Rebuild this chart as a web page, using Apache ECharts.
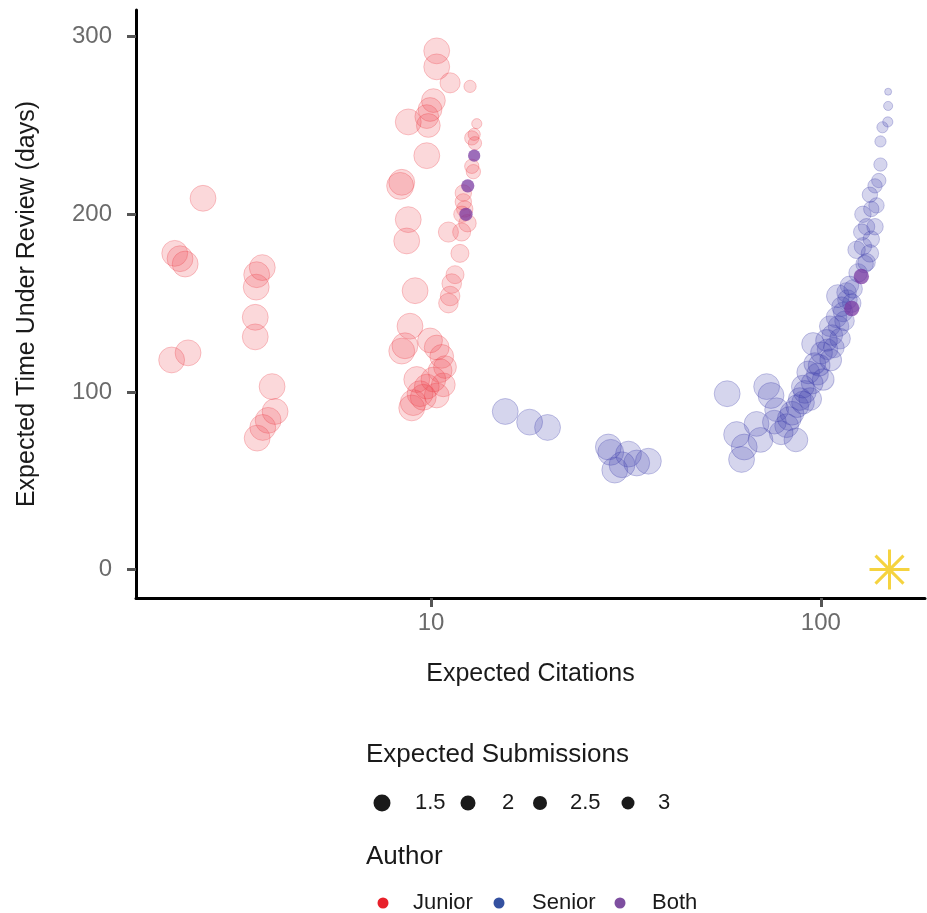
<!DOCTYPE html>
<html>
<head>
<meta charset="utf-8">
<script src="https://cdn.jsdelivr.net/npm/echarts@6/dist/echarts.min.js"></script>
<style>
  html, body { margin: 0; padding: 0; background: #fff; }
  #main { width: 927px; height: 913px; }
</style>
</head>
<body>
<div id="main"></div>
<script>
// [expected citations, expected days under review, expected submissions]
var junior = [
  [2.60, 209, 1.3], [2.20, 178, 1.3], [2.27, 175, 1.3], [2.34, 172, 1.3],
  [2.38, 122, 1.3], [2.16, 118, 1.3],
  [3.69, 170, 1.3], [3.57, 166, 1.3], [3.56, 159, 1.3], [3.54, 142, 1.3],
  [3.54, 131, 1.3], [3.91, 103, 1.3], [3.98, 89, 1.3], [3.82, 84, 1.3],
  [3.70, 80, 1.3], [3.58, 74, 1.3],
  [10.34, 292, 1.3], [10.34, 283, 1.3], [11.19, 274, 1.85], [12.59, 272, 2.6],
  [10.14, 264, 1.5], [9.94, 259, 1.5], [9.75, 255, 1.5], [8.74, 252, 1.3],
  [9.84, 250, 1.5], [9.75, 233, 1.3], [13.1, 251, 2.8], [12.9, 245, 2.6],
  [12.72, 243, 2.4], [12.96, 240, 2.5], [12.72, 227, 2.4], [12.84, 224, 2.4],
  [12.1, 212, 2.2], [12.1, 207, 2.2], [12.2, 203, 2.2], [12.0, 200, 2.2],
  [12.4, 195, 2.1], [8.33, 216, 1.2], [8.41, 218, 1.3], [8.74, 197, 1.3],
  [8.66, 185, 1.3], [11.08, 190, 1.85], [11.98, 190, 2.05], [11.86, 178, 2.05],
  [11.52, 166, 2.05], [11.3, 161, 1.9], [11.19, 154, 1.9], [11.08, 150, 1.9],
  [9.1, 157, 1.3], [8.83, 137, 1.3], [8.57, 126, 1.3], [8.41, 123, 1.3],
  [9.94, 129, 1.4], [10.34, 125, 1.4], [10.65, 120, 1.5], [10.86, 114, 1.6],
  [10.55, 112, 1.5], [9.19, 107, 1.3], [10.14, 107, 1.4], [9.75, 103, 1.4],
  [10.75, 104, 1.5], [9.37, 99, 1.3], [9.0, 94, 1.3], [9.55, 97, 1.3],
  [8.92, 91, 1.3], [10.34, 98, 1.4]
];
var senior = [
  [15.5, 89, 1.3], [17.9, 83, 1.3], [19.9, 80, 1.3],
  [28.5, 69, 1.3], [28.9, 66, 1.3], [29.6, 56, 1.3], [32.1, 65, 1.3],
  [33.7, 60, 1.3], [36.1, 61, 1.3], [30.9, 59, 1.3],
  [57.5, 99, 1.3], [72.6, 103, 1.3], [74.5, 98, 1.3], [60.8, 76, 1.3],
  [62.6, 62, 1.3], [63.6, 69, 1.3], [68.4, 82, 1.4], [70, 73, 1.4],
  [77, 90, 1.5], [81.7, 81, 1.5], [84.3, 88, 1.5], [88.3, 96, 1.6],
  [89.9, 103, 1.6], [92.8, 111, 1.6], [96.5, 116, 1.7], [95.5, 127, 1.6],
  [100.4, 122, 1.7], [103.4, 129, 1.7], [105.4, 137, 1.8], [109.7, 142, 1.8],
  [113, 148, 1.9], [110.6, 154, 1.6], [116.4, 156, 1.9], [118.4, 160, 2.0],
  [124.6, 167, 2.0], [131, 173, 2.1], [86.3, 73, 1.5], [79.1, 77, 1.5],
  [93.9, 96, 1.6], [101.4, 107, 1.7], [98, 110, 1.7], [91, 100, 1.6],
  [106, 118, 1.7], [112, 130, 1.8], [108, 125, 1.8], [115, 140, 1.9],
  [120, 150, 2.0], [83, 85, 1.5], [87, 92, 1.6], [95, 105, 1.7],
  [99, 115, 1.7], [104, 124, 1.8], [107, 132, 1.8], [111, 137, 1.8],
  [114, 145, 1.9], [117, 152, 1.9], [121, 158, 2.0], [76, 83, 1.5],
  [90, 94, 1.6],
  [148.8, 269, 3.1], [148.8, 261, 2.9], [148.5, 252, 2.8], [143.9, 249, 2.7],
  [142.2, 241, 2.7], [142.2, 228, 2.5], [140.8, 219, 2.4], [137.7, 216, 2.4],
  [133.6, 211, 2.3], [138.9, 205, 2.3], [134.7, 203, 2.3], [128.2, 200, 2.2],
  [137.7, 193, 2.2], [131, 193, 2.2], [127.3, 190, 2.2], [134.7, 186, 2.2],
  [128.2, 182, 2.1], [123.5, 180, 2.1], [133.6, 178, 2.1], [129.5, 172, 2.1]
];
var both = [
  [12.9, 233, 2.6], [12.42, 216, 2.5], [12.29, 200, 2.5],
  [127, 165, 2.3], [120, 147, 2.3]
];
var optimum = [[150, 0]];

var yTicks = [0, 100, 200, 300];
var xTicks = [10, 100];
var sizeLegend = [1.5, 2, 2.5, 3];
var authors = ['Junior', 'Senior', 'Both'];
var authorColors = ['#e8202a', '#3451a0', '#7e4fa0'];

// fewer submissions -> bigger circle
function sizeOf(s) {
  return 7 + (3.1 - s) * 10.5;
}

var font = '"Liberation Sans", Arial, sans-serif';
var myChart = echarts.init(document.getElementById('main'));

// legend pieces drawn as graphics
var graphics = [
  {type: 'text', left: 366, top: 742, style: {text: 'Expected Submissions', font: '26px ' + font, fill: '#1a1a1a'}},
  {type: 'text', left: 366, top: 844, style: {text: 'Author', font: '26px ' + font, fill: '#1a1a1a'}}
];
var sizeX = [382, 468, 540, 628];
var sizeD = [17, 15, 14, 13];
var sizeTextX = [415, 502, 570, 658];
sizeLegend.forEach(function (v, i) {
  graphics.push({type: 'circle', shape: {cx: sizeX[i], cy: 803, r: sizeD[i] / 2}, style: {fill: '#1a1a1a'}});
  graphics.push({type: 'text', left: sizeTextX[i], top: 792, style: {text: String(v), font: '22px ' + font, fill: '#1a1a1a'}});
});
var authX = [383, 499, 620];
var authTextX = [413, 532, 652];
authors.forEach(function (a, i) {
  graphics.push({type: 'circle', shape: {cx: authX[i], cy: 903, r: 5.5}, style: {fill: authorColors[i]}});
  graphics.push({type: 'text', left: authTextX[i], top: 892, style: {text: a, font: '22px ' + font, fill: '#1a1a1a'}});
});

myChart.setOption({
  animation: false,
  textStyle: {fontFamily: font},
  grid: {left: 136, right: 2, top: 10, bottom: 315},
  xAxis: {
    type: 'log',
    logBase: 10,
    min: 1.75,
    max: 185,
    name: 'Expected Citations',
    nameLocation: 'middle',
    nameGap: 64,
    nameTextStyle: {fontSize: 25, color: '#1a1a1a'},
    axisLine: {show: true, onZero: false, lineStyle: {color: '#000', width: 3}},
    axisTick: {show: true, customValues: xTicks, length: 9, lineStyle: {color: '#555', width: 3}},
    axisLabel: {customValues: xTicks, fontSize: 24, color: '#6b6b6b', margin: 13},
    splitLine: {show: false},
    minorTick: {show: false}
  },
  yAxis: {
    type: 'value',
    min: -16,
    max: 315,
    name: 'Expected Time Under Review (days)',
    nameLocation: 'middle',
    nameGap: 96,
    nameTextStyle: {fontSize: 25, color: '#1a1a1a'},
    axisLine: {show: true, onZero: false, lineStyle: {color: '#000', width: 3}},
    axisTick: {show: true, customValues: yTicks, length: 9, lineStyle: {color: '#555', width: 3}},
    axisLabel: {customValues: yTicks, fontSize: 24, color: '#6b6b6b', margin: 24},
    splitLine: {show: false}
  },
  graphic: graphics,
  series: [
    {
      name: 'Junior', type: 'scatter', data: junior, z: 2,
      symbolSize: function (d) { return sizeOf(d[2]); },
      itemStyle: {color: 'rgba(236,60,70,0.25)', borderColor: 'rgba(236,60,70,0.35)', borderWidth: 1}
    },
    {
      name: 'Senior', type: 'scatter', data: senior, z: 3,
      symbolSize: function (d) { return sizeOf(d[2]); },
      itemStyle: {color: 'rgba(60,60,170,0.27)', borderColor: 'rgba(60,60,170,0.35)', borderWidth: 1}
    },
    {
      name: 'Both', type: 'scatter', data: both, z: 4,
      symbolSize: function (d) { return sizeOf(d[2]); },
      itemStyle: {color: 'rgba(118,52,160,0.9)'}
    },
    {
      name: 'Optimum', type: 'scatter', data: optimum, z: 5,
      symbol: 'path://M10,0L10,20M0,10L20,10M3,3L17,17M3,17L17,3',
      symbolSize: 40,
      itemStyle: {color: 'rgba(0,0,0,0)', borderColor: '#f2c80f', borderWidth: 3}
    }
  ]
});
</script>
</body>
</html>
